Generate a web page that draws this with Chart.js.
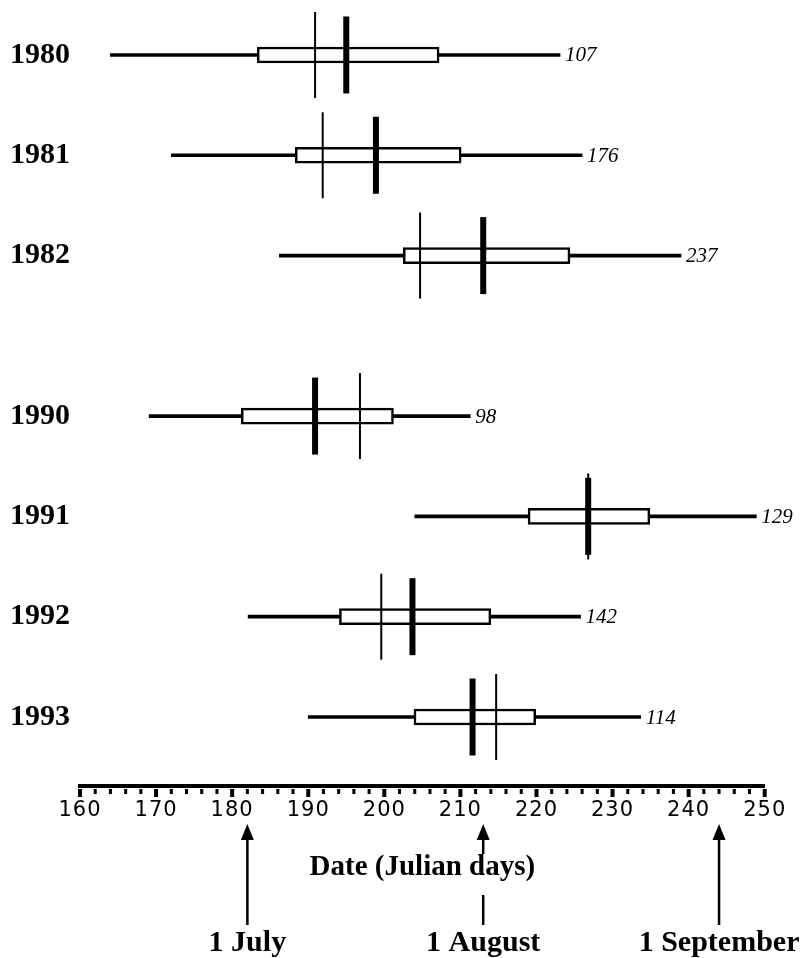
<!DOCTYPE html>
<html>
<head>
<meta charset="utf-8">
<script src="https://cdn.jsdelivr.net/npm/chart.js@4.4.0/dist/chart.umd.min.js"></script>
<style>
body { margin: 0; background: #fff; }
#wrap { width: 804px; height: 958px; position: relative; }
</style>
</head>
<body>
<div id="wrap"><canvas id="mycanvas"></canvas></div>
<script>
var years = ['1980', '1981', '1982', '1990', '1991', '1992', '1993'];
var rowPos = [0, 1, 2, 3.6, 4.6, 5.6, 6.6];
var whiskerLow = [164, 172, 186.2, 169.1, 204, 182.1, 190];
var boxLow = [183.3, 188.3, 202.5, 181.2, 218.9, 194.1, 203.9];
var boxHigh = [207.2, 210.1, 224.4, 201.2, 234.9, 214, 219.9];
var whiskerHigh = [223.1, 226, 239, 211.3, 248.9, 225.8, 233.7];
var thinLine = [190.9, 191.9, 204.7, 196.8, 226.8, 199.6, 214.7];
var thickLine = [195, 198.9, 213, 190.9, 226.8, 203.7, 211.6];
var counts = [107, 176, 237, 98, 129, 142, 114];
var monthDays = [182, 213, 244];
var monthLabels = ['1 July', '1 August', '1 September'];

var whiskers = [], boxes = [], thin = [], thick = [];
for (var i in years) {
	whiskers.push({x: [whiskerLow[i], whiskerHigh[i]], y: rowPos[i]});
	boxes.push({x: [boxLow[i], boxHigh[i]], y: rowPos[i]});
	thin.push({x: thinLine[i], y: rowPos[i]});
	thick.push({x: thickLine[i], y: rowPos[i]});
}

// ruler ticks, counts, month arrows
var extras = {
	id: 'extras',
	afterLayout: function(chart) {
		// spaced-out digits on the day axis
		var xs = chart.scales.x;
		if (xs._spaced) return;
		var orig = xs.drawLabels;
		xs.drawLabels = function(area) {
			this.ctx.save();
			this.ctx.letterSpacing = '1px';
			orig.call(this, area);
			this.ctx.restore();
		};
		xs._spaced = true;
	},
	afterDraw: function(chart) {
		var ctx = chart.ctx, xs = chart.scales.x, ys = chart.scales.y;
		var base = xs.top + 4;
		ctx.save();
		ctx.fillStyle = '#000';
		ctx.strokeStyle = '#000';
		xs.ticks.forEach(function(t) {
			var px = xs.getPixelForValue(t.value);
			var major = t.value % 10 === 0;
			var w = major ? 4 : 3;
			ctx.fillRect(px - w / 2, base - 1, w, major ? 8 : 5);
		});

		ctx.font = 'italic 21px "Liberation Serif"';
		ctx.textBaseline = 'middle';
		ctx.textAlign = 'left';
		for (var i in counts) {
			ctx.fillText(counts[i], xs.getPixelForValue(whiskerHigh[i]) + 5, ys.getPixelForValue(rowPos[i]) + 1);
		}

		ctx.lineWidth = 2.5;
		for (var k in monthDays) {
			var px = xs.getPixelForValue(monthDays[k]);
			var tip = base + 34;
			ctx.beginPath();
			ctx.moveTo(px, tip);
			ctx.lineTo(px - 6.5, tip + 16);
			ctx.lineTo(px + 6.5, tip + 16);
			ctx.closePath();
			ctx.fill();
			ctx.beginPath();
			if (k == 1) {
				ctx.moveTo(px, tip + 14);
				ctx.lineTo(px, tip + 30);
				ctx.moveTo(px, tip + 71);
				ctx.lineTo(px, tip + 101);
			} else {
				ctx.moveTo(px, tip + 14);
				ctx.lineTo(px, tip + 101);
			}
			ctx.stroke();
			ctx.font = 'bold 30px "Liberation Serif"';
			ctx.textAlign = 'center';
			ctx.textBaseline = 'alphabetic';
			ctx.fillText(monthLabels[k], px, 951);
		}
		ctx.restore();
	}
};

var ctx = document.getElementById('mycanvas');

var boxChart = new Chart(ctx, {
	type: 'bar',
	data: {
		datasets: [
			{
				type: 'scatter',
				data: thick,
				order: 0,
				pointStyle: 'line',
				pointRotation: 90,
				pointRadius: 38.5,
				pointBorderWidth: 6,
				pointBorderColor: '#000',
				clip: false
			},
			{
				type: 'scatter',
				data: thin,
				order: 0,
				pointStyle: 'line',
				pointRotation: 90,
				pointRadius: 43,
				pointBorderWidth: 2,
				pointBorderColor: '#000',
				clip: false
			},
			{
				data: boxes,
				order: 1,
				stack: 'row',
				barThickness: 16,
				backgroundColor: '#fff',
				borderColor: '#000',
				borderWidth: 2.5,
				borderSkipped: false
			},
			{
				data: whiskers,
				order: 2,
				stack: 'row',
				barThickness: 3,
				backgroundColor: '#000',
				borderWidth: 0
			}
		]
	},
	options: {
		indexAxis: 'y',
		responsive: true,
		maintainAspectRatio: false,
		animation: false,
		layout: { autoPadding: false, padding: { left: 0, right: 39.3, top: 0, bottom: 0 } },
		plugins: { legend: { display: false }, tooltip: { enabled: false } },
		scales: {
			x: {
				type: 'linear',
				min: 160,
				max: 250,
				stacked: false,
				border: { display: true, color: '#000', width: 4 },
				grid: { display: false, drawTicks: false },
				ticks: {
					stepSize: 2,
					autoSkip: false,
					maxRotation: 0,
					padding: 12,
					color: '#000',
					font: { family: 'DejaVu Sans', size: 21 },
					callback: function(v) { return v % 10 === 0 ? v : ''; }
				},
				title: {
					display: true,
					text: 'Date (Julian days)',
					color: '#000',
					font: { family: 'Liberation Serif', size: 29, weight: 'bold' },
					padding: { top: 0, bottom: 72.6 }
				},
				afterFit: function(s) { s.height = 172; }
			},
			y: {
				type: 'linear',
				reverse: true,
				min: -0.548,
				max: 7.288,
				offset: false,
				border: { display: false },
				grid: { display: false, drawTicks: false },
				ticks: {
					padding: 10,
					color: '#000',
					font: { family: 'Liberation Serif', size: 30, weight: 'bold' },
					callback: function(v) {
						var k = rowPos.indexOf(v);
						return k < 0 ? '' : years[k];
					}
				},
				afterBuildTicks: function(s) {
					s.ticks = rowPos.map(function(v) { return {value: v}; });
				},
				afterFit: function(s) {
					s.width = 80;
					s.paddingTop = 0;
					s.paddingBottom = 0;
				}
			}
		}
	},
	plugins: [extras]
});
</script>
</body>
</html>
